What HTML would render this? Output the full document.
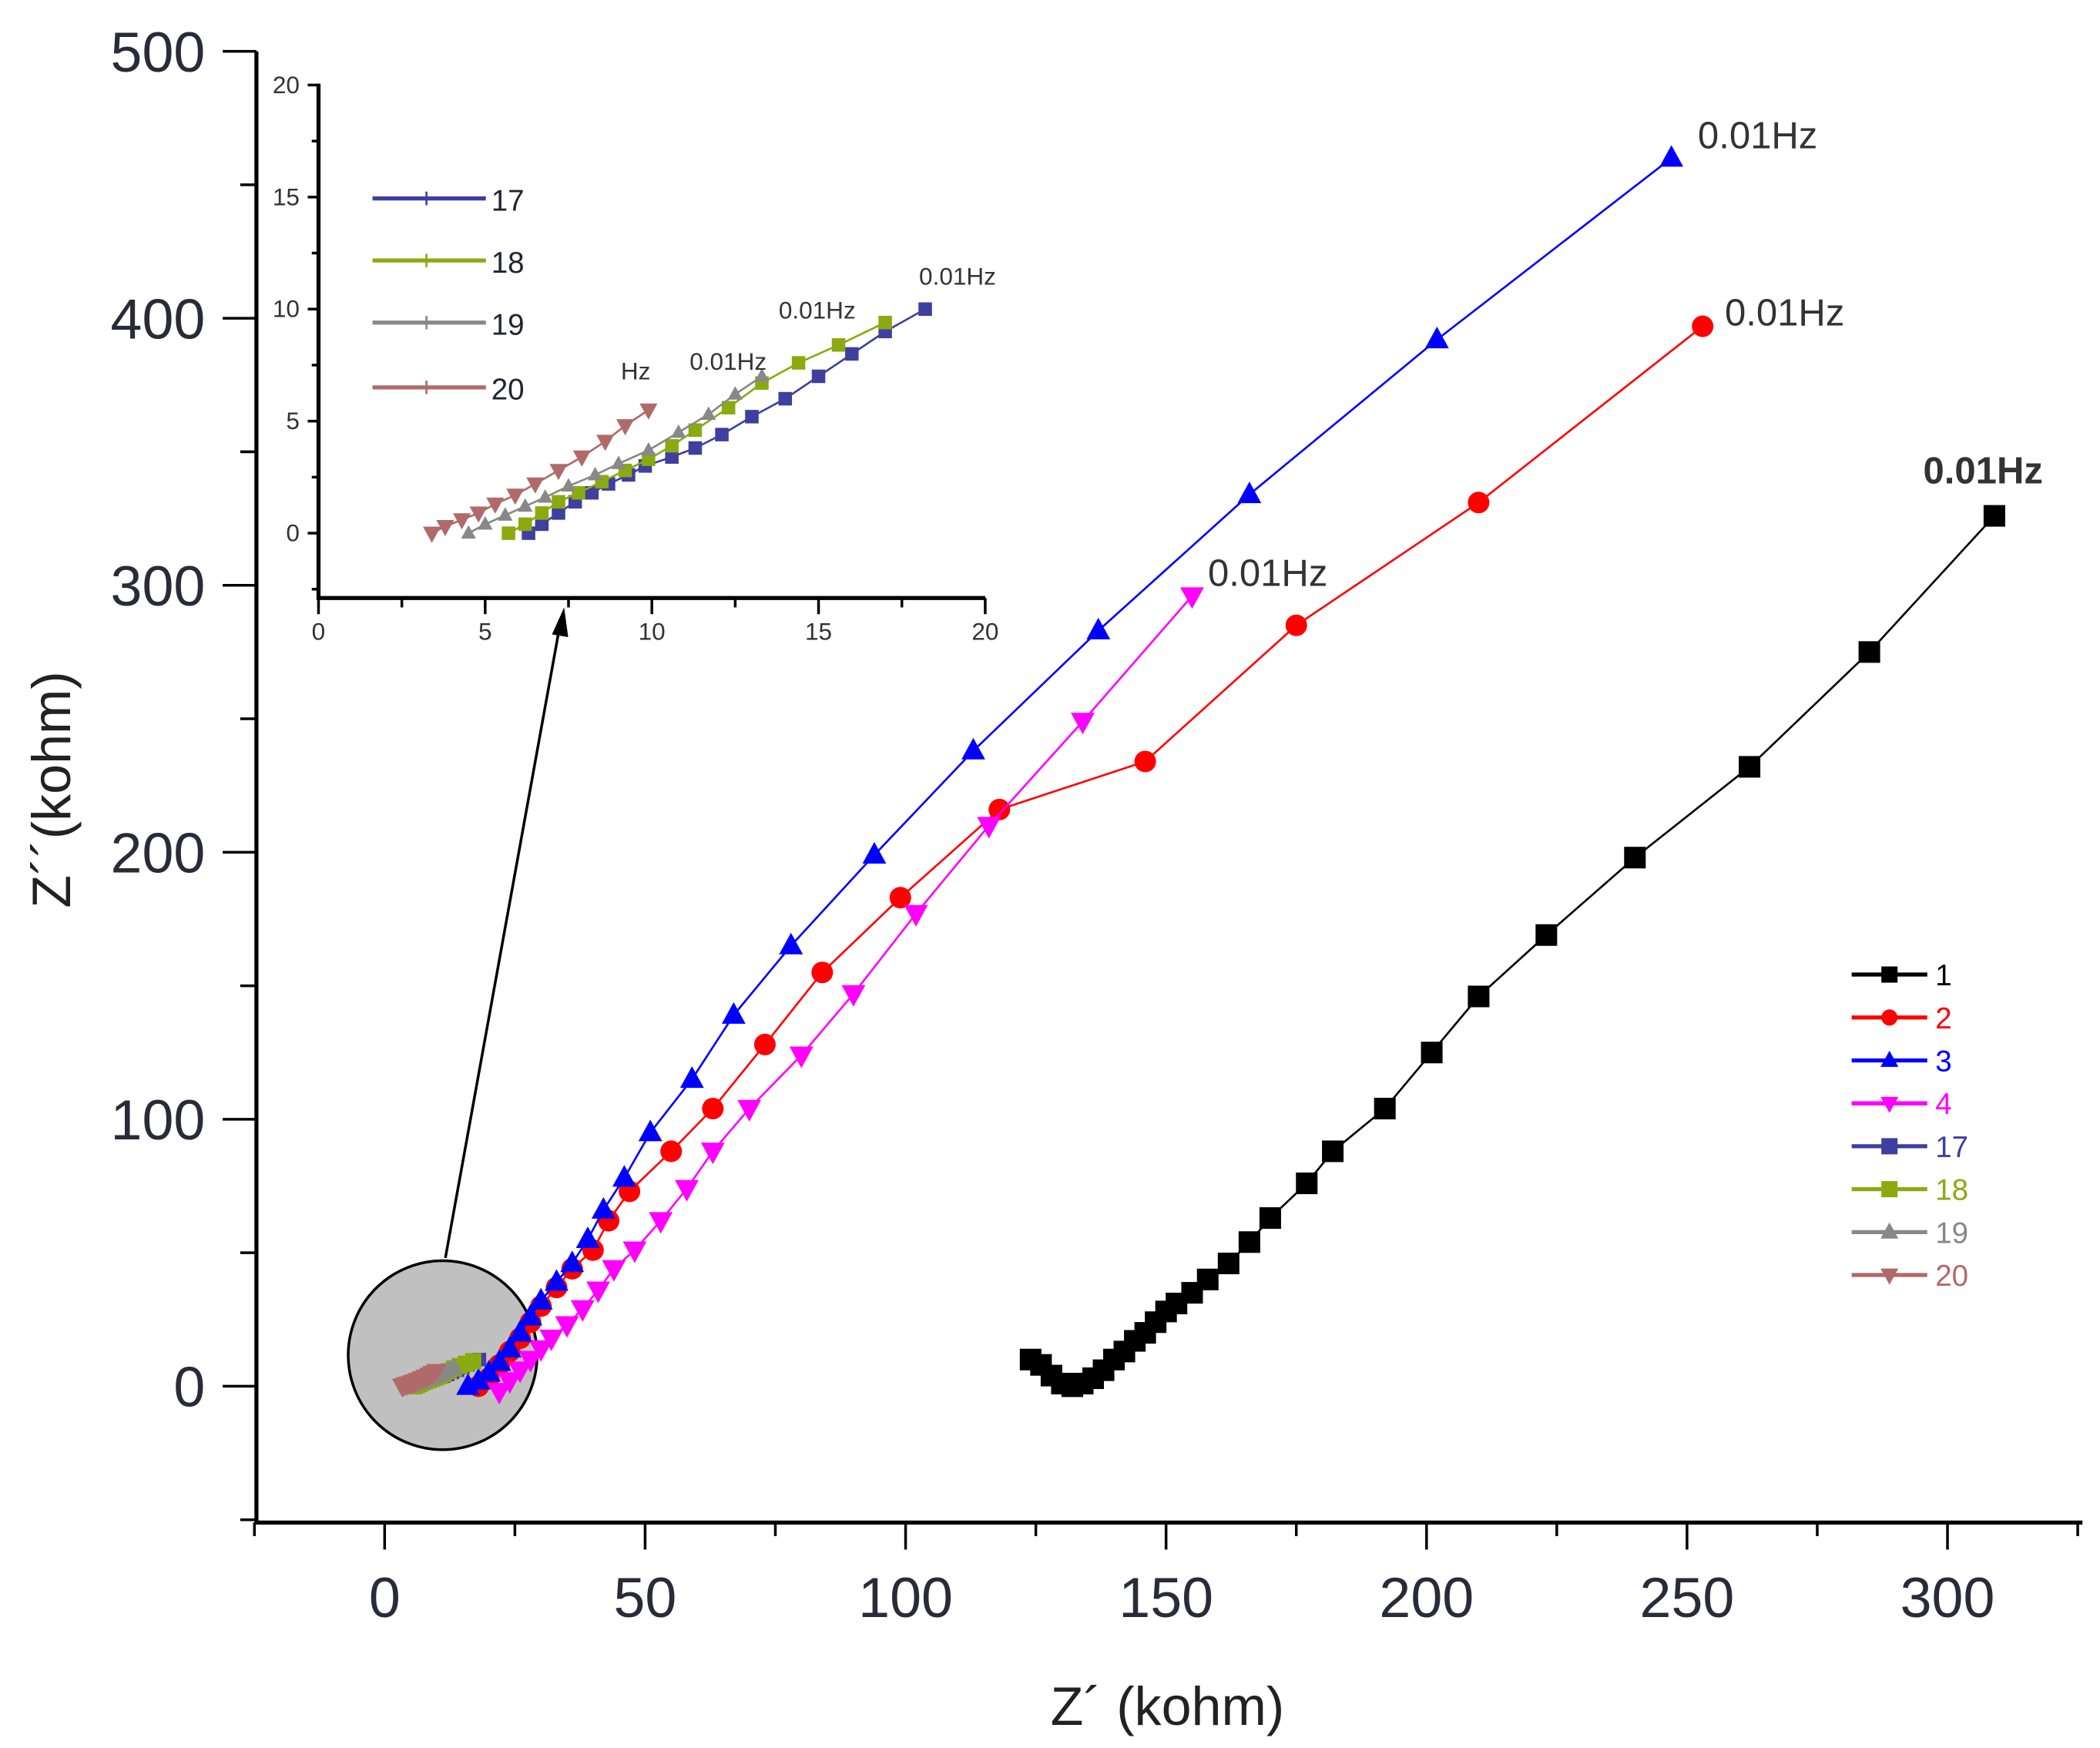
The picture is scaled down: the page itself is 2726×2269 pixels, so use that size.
<!DOCTYPE html>
<html><head><meta charset="utf-8"><style>
html,body{margin:0;padding:0;background:#fff}
svg{display:block}
text{font-family:"Liberation Sans",sans-serif}
</style></head><body>
<svg id="chart" width="2726" height="2269" viewBox="0 0 1556 1295" preserveAspectRatio="none" xmlns="http://www.w3.org/2000/svg">
<g id="main"></g>
<g id="inset"></g>
</svg>
<script>
const NS="http://www.w3.org/2000/svg";
// main chart data
const mainXTicks=[0,50,100,150,200,250,300];
const mainYTicks=[0,100,200,300,400,500];
const s1x=[124,126,128,130,132,134,136,138,140,142,144,146,148,150,152,155,158,162,166,170,177,182,192,201,210,223,240,262,285,309];
const s1y=[10,8,4,1,0,1,3,6,10,13,17,20,24,28,31,35,40,46,54,63,76,88,104,125,146,169,198,232,275,326];
const s2x=[18,20,22,24,26,28,30,33,36,40,43,47,55,63,73,84,99,118,146,175,210,253];
const s2y=[0,3,8,13,18,24,30,37,44,51,62,73,88,104,128,155,183,216,234,285,331,397];
const s3x=[16,18,20,22,24,26,28,30,33,36,39,42,46,51,59,67,78,94,113,137,166,202,247];
const s3y=[0,2,5,9,14,20,26,32,39,46,55,66,78,95,115,139,165,199,238,283,334,392,460];
const s4x=[22,24,26,28,30,32,35,38,41,44,48,53,58,63,70,80,90,102,116,134,155];
const s4y=[-2,2,6,10,14,18,23,29,36,44,51,62,74,88,104,124,147,177,210,249,296];
// inset data
const insetTicks=[0,5,10,15,20];
const s17x=[6.3,6.7,7.2,7.7,8.2,8.7,9.3,9.8,10.6,11.3,12.1,13.0,14.0,15.0,16.0,17.0,18.2];
const s17y=[0,0.4,0.9,1.4,1.8,2.2,2.6,3.0,3.4,3.8,4.4,5.2,6.0,7.0,8.0,9.0,10.0];
const s18x=[5.7,6.2,6.7,7.2,7.8,8.5,9.2,9.9,10.6,11.3,12.3,13.3,14.4,15.6,17.0];
const s18y=[0,0.4,0.9,1.4,1.8,2.3,2.8,3.3,3.9,4.6,5.6,6.7,7.6,8.4,9.4];
const s19x=[4.5,5.0,5.6,6.2,6.8,7.5,8.3,9.0,9.9,10.8,11.7,12.5,13.3];
const s19y=[0,0.4,0.8,1.2,1.6,2.1,2.6,3.1,3.7,4.5,5.3,6.2,7.0];
const s20x=[3.4,3.8,4.3,4.8,5.3,5.9,6.5,7.2,7.9,8.6,9.2,9.9];
const s20y=[0,0.3,0.6,0.9,1.3,1.7,2.2,2.8,3.4,4.1,4.8,5.5];

const mx=v=>285+v*3.86, my=v=>1027-v*1.978;
const ix=v=>236+v*24.7, iy=v=>395-v*16.6;
function el(p,tag,a,txt){const e=document.createElementNS(NS,tag);for(const k in a)e.setAttribute(k,a[k]);if(txt!==undefined)e.textContent=txt;p.appendChild(e);return e;}
function marker(g,shape,x,y,s,c){
  let e;
  if(shape==='sq')e=el(g,'rect',{x:x-s,y:y-s,width:2*s,height:2*s,fill:c});
  else if(shape==='ci')e=el(g,'circle',{cx:x,cy:y,r:s,fill:c});
  else if(shape==='up')e=el(g,'polygon',{points:`${x},${y-s*1.2} ${x-s*1.1},${y+s*0.8} ${x+s*1.1},${y+s*0.8}`,fill:c});
  else if(shape==='dn')e=el(g,'polygon',{points:`${x},${y+s*1.2} ${x-s*1.1},${y-s*0.8} ${x+s*1.1},${y-s*0.8}`,fill:c});
  else e=el(g,'path',{d:`M${x-s} ${y}H${x+s}M${x} ${y-s}V${y+s}`,stroke:c,'stroke-width':1.5});
  
  
}
function series(g,xs,ys,fx,fy,c,shape,s,name){
  const sg=el(g,'g',{});
  
  
  const l=el(sg,'polyline',{points:xs.map((v,i)=>fx(v)+','+fy(ys[i])).join(' '),fill:'none',stroke:c,'stroke-width':1.5});
  
  
  xs.forEach((v,i)=>marker(sg,shape,fx(v),fy(ys[i]),s,c));
}
const M=document.getElementById('main');
let a=el(M,'path',{d:'M190 38V1128H1543',fill:'none',stroke:'#000','stroke-width':3});

for(let v=-25;v<=325;v+=25){const X=mx(v);const major=v%50===0&&v>=0;el(M,'line',{x1:X,y1:1128,x2:X,y2:major?1148:1138,stroke:'#000','stroke-width':2});}
mainXTicks.forEach(v=>{const t=el(M,'text',{x:mx(v),y:1198,'font-size':42,fill:'#2a2a3a','text-anchor':'middle'},v);});
for(let v=-50;v<=500;v+=50){const Y=my(v);const major=v%100===0;el(M,'line',{x1:190,y1:Y,x2:major?165:178,y2:Y,stroke:'#000','stroke-width':2});}
mainYTicks.forEach(v=>{const t=el(M,'text',{x:152,y:my(v)+15,'font-size':42,fill:'#2a2a3a','text-anchor':'end'},v);});
let t=el(M,'text',{x:865,y:1278,'font-size':40,fill:'#222','text-anchor':'middle'},'Z´ (kohm)');
t=el(M,'text',{x:0,y:0,'font-size':40,fill:'#222','text-anchor':'middle',transform:'translate(52,585) rotate(-90)'},'Z´´(kohm)');
let c=el(M,'circle',{cx:328,cy:1004,r:70,fill:'#c0c0c0',stroke:'#000','stroke-width':2});
c=el(M,'line',{x1:330,y1:932,x2:414,y2:468,stroke:'#000','stroke-width':2});
el(M,'polygon',{points:'418,450 409,470 421,472',fill:'#000'});
series(M,s1x,s1y,mx,my,'#000','sq',8,'series-1');
series(M,s2x,s2y,mx,my,'#f00','ci',8,'series-2');
series(M,s4x,s4y,mx,my,'#f0f','dn',8,'series-4');
series(M,s3x,s3y,mx,my,'#00f','up',8,'series-3');
series(M,s17x,s17y,mx,my,'#3f3f9f','sq',5,'series-17-main');
series(M,s18x,s18y,mx,my,'#8aaa10','sq',6,'series-18-main');
series(M,s19x,s19y,mx,my,'#888','up',6,'series-19-main');
series(M,s20x,s20y,mx,my,'#b06a6a','dn',7,'series-20-main');
[['0.01Hz',1425,358,'bold'],['0.01Hz',1278,241,'normal'],['0.01Hz',1258,110,'normal'],['0.01Hz',895,434,'normal']].forEach(d=>{const e=el(M,'text',{x:d[1],y:d[2],'font-size':28,'font-weight':d[3],fill:'#333'},d[0]);});
const legNames=['1','2','3','4','17','18','19','20'],legCols=['#000','#f00','#00f','#f0f','#3f3f9f','#8aaa10','#888','#b06a6a'],legShapes=['sq','ci','up','dn','sq','sq','up','dn'];
legNames.forEach((n,i)=>{const y=722+i*31.8;const g=el(M,'g',{});
el(g,'line',{x1:1372,y1:y,x2:1428,y2:y,stroke:legCols[i],'stroke-width':3});marker(g,legShapes[i],1400,y,6,legCols[i]);el(g,'text',{x:1434,y:y+8,'font-size':22,fill:legCols[i]},n);});
const I=document.getElementById('inset');
a=el(I,'path',{d:'M236 62V443H730',fill:'none',stroke:'#000','stroke-width':3});
for(let v=0;v<=20;v+=2.5){const X=ix(v);el(I,'line',{x1:X,y1:443,x2:X,y2:v%5===0?455:450,stroke:'#000','stroke-width':2});}
for(let v=-2.5;v<=20;v+=2.5){const Y=iy(v);el(I,'line',{x1:236,y1:Y,x2:v%5===0?228:231,y2:Y,stroke:'#000','stroke-width':2});}
insetTicks.forEach(v=>{let e=el(I,'text',{x:ix(v),y:474,'font-size':18,fill:'#333','text-anchor':'middle'},v);
e=el(I,'text',{x:222,y:iy(v)+6,'font-size':18,fill:'#333','text-anchor':'end'},v);});
series(I,s17x,s17y,ix,iy,'#3f3f9f','sq',5,'inset-series-17');
series(I,s18x,s18y,ix,iy,'#8aaa10','sq',5,'inset-series-18');
series(I,s19x,s19y,ix,iy,'#888','up',5,'inset-series-19');
series(I,s20x,s20y,ix,iy,'#b06a6a','dn',6,'inset-series-20');
[['0.01Hz',681,211],['0.01Hz',577,236],['0.01Hz',511,274],['Hz',460,281]].forEach(d=>{const e=el(I,'text',{x:d[1],y:d[2],'font-size':18,fill:'#333'},d[0]);});
['17','18','19','20'].forEach((n,i)=>{const y=[147,193,239,287][i];const col=legCols[4+i];const g=el(I,'g',{});
el(g,'line',{x1:276,y1:y,x2:360,y2:y,stroke:col,'stroke-width':3});marker(g,'pl',316,y,5,col);el(g,'text',{x:364,y:y+9,'font-size':22,fill:'#223'},n);});
</script>
</body></html>
